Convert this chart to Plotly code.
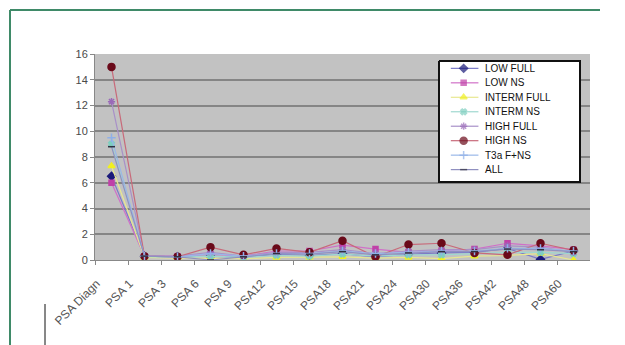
import plotly.graph_objects as go

categories = ["PSA Diagn", "PSA 1", "PSA 3", "PSA 6", "PSA 9", "PSA12", "PSA15", "PSA18",
              "PSA21", "PSA24", "PSA30", "PSA36", "PSA42", "PSA48", "PSA60"]

low_full = [6.5, 0.3, 0.25, 0.3, 0.2, 0.45, 0.35, 0.5, 0.25, 0.45, 0.55, 0.6, 0.9, 0.05, 0.7]
low_ns = [6.0, 0.3, 0.3, 0.45, 0.3, 0.7, 0.7, 1.15, 0.85, 0.6, 0.7, 0.85, 1.3, 1.1, 0.8]
interm_full = [7.3, 0.2, 0.15, 0.15, 0.1, 0.2, 0.2, 0.25, 0.15, 0.2, 0.1, 0.3, 0.35, 0.5, 0.0]
interm_ns = [9.0, 0.25, 0.2, 0.3, 0.2, 0.35, 0.3, 0.45, 0.3, 0.4, 0.4, 0.5, 0.6, 0.6, 0.5]
high_full = [12.3, 0.3, 0.3, 0.6, 0.3, 0.6, 0.6, 0.8, 0.5, 0.7, 0.8, 0.8, 1.1, 1.0, 0.6]
high_ns = [15.0, 0.3, 0.25, 1.0, 0.4, 0.9, 0.6, 1.5, 0.25, 1.2, 1.3, 0.55, 0.4, 1.3, 0.75]
t3a_fns = [9.5, 0.3, 0.25, 0.5, 0.3, 0.5, 0.5, 0.7, 0.5, 0.6, 0.7, 0.7, 0.9, 0.9, 0.7]
all_pts = [8.8, 0.3, 0.25, 0.0, 0.25, 0.5, 0.45, 0.65, 0.4, 0.55, 0.65, 0.65, 0.85, 0.8, 0.65]

series = [
    ("LOW FULL", low_full, "#1a1a7a", "#7a7ac8", "diamond", 6),
    ("LOW NS", low_ns, "#c040a8", "#d070c8", "square", 5),
    ("INTERM FULL", interm_full, "#f0f020", "#e8e890", "triangle-up", 6),
    ("INTERM NS", interm_ns, "#7fcfc0", "#9fd8d0", "x", 5),
    ("HIGH FULL", high_full, "#9a6ab8", "#a890c8", "asterisk", 6),
    ("HIGH NS", high_ns, "#6a0a1a", "#c86a7a", "circle", 7),
    ("T3a F+NS", t3a_fns, "#8fb0e8", "#9ab8e8", "cross-thin", 6),
    ("ALL", all_pts, "#303040", "#9090c0", "line-ew", 5),
]

fig = go.Figure()
for name, vals, mcol, lcol, sym, size in series:
    fig.add_trace(go.Scatter(
        x=categories, y=vals, name=name, mode="lines+markers",
        line=dict(color=lcol, width=1.2),
        marker=dict(color=mcol, symbol=sym, size=size,
                    line=dict(color=mcol, width=1.5)),
        showlegend=False,
    ))

# Legend panel drawn on an overlay subplot (pixel-like units, y downward)
box_w, box_h = 143, 123
row_h, row_top = 14.7, 7.5
key_x0, key_xc, key_x1, text_x = 12, 25, 40, 45

fig.add_trace(go.Scatter(
    x=[0, box_w, box_w, 0, 0], y=[0, 0, box_h, box_h, 0],
    xaxis="x2", yaxis="y2", mode="lines", fill="toself",
    fillcolor="white", line=dict(color="#111111", width=2),
    hoverinfo="skip", showlegend=False,
))
for i, (name, vals, mcol, lcol, sym, size) in enumerate(series):
    yy = row_top + i * row_h
    fig.add_trace(go.Scatter(
        x=[key_x0, key_x1], y=[yy, yy], xaxis="x2", yaxis="y2",
        mode="lines", line=dict(color=lcol, width=1.2),
        hoverinfo="skip", showlegend=False,
    ))
fig.add_trace(go.Scatter(
    x=[key_xc] * len(series),
    y=[row_top + i * row_h for i in range(len(series))],
    xaxis="x2", yaxis="y2", mode="markers",
    marker=dict(color=[s[2] for s in series], symbol=[s[4] for s in series],
                size=[s[5] for s in series],
                line=dict(color=[s[2] for s in series], width=1.5)),
    hoverinfo="skip", showlegend=False,
))
legend_text = [
    dict(x=text_x, y=row_top + i * row_h, xref="x2", yref="y2", text=s[0],
         showarrow=False, xanchor="left", yanchor="middle",
         font=dict(size=10, color="#111111"))
    for i, s in enumerate(series)
]

W, H = 625, 345
grid = "#858585"
fx, fy = 10 / W, 1 - 10 / H

fig.update_layout(
    width=W, height=H,
    margin=dict(l=0, r=0, t=0, b=0),
    paper_bgcolor="white",
    plot_bgcolor="#c2c2c2",
    font=dict(family="Liberation Sans, Arial, sans-serif", color="#555555", size=10),
    showlegend=False,
    annotations=legend_text,
    xaxis=dict(
        domain=[95 / W, 590 / W], automargin=False,
        type="category", showgrid=False, tickangle=-45,
        ticks="outside", tickson="boundaries", ticklen=4, tickcolor="#888888",
        showline=True, linecolor="#888888", linewidth=1,
        tickfont=dict(size=12, color="#555555"),
        ticklabelstandoff=11, ticklabelshift=-15,
        range=[-0.5, len(categories) - 0.5],
    ),
    yaxis=dict(
        domain=[1 - 260 / H, 1 - 54 / H], automargin=False,
        range=[0, 16], dtick=2, showgrid=True, gridcolor=grid, gridwidth=2,
        ticks="outside", ticklen=4, tickcolor="#888888",
        showline=True, linecolor="#888888", linewidth=1,
        zeroline=False, tickfont=dict(size=11, color="#4a4a4a"),
    ),
    xaxis2=dict(domain=[438 / W, 581 / W], range=[-1, box_w + 1], anchor="y2",
                visible=False, fixedrange=True, automargin=False),
    yaxis2=dict(domain=[1 - 183 / H, 1 - 60 / H], range=[box_h + 1, -1], anchor="x2",
                visible=False, fixedrange=True, automargin=False),
    shapes=[
        # outer frame: top and left edges
        dict(type="line", xref="paper", yref="paper",
             x0=fx, x1=600 / W, y0=fy, y1=fy,
             line=dict(color="#3f8a68", width=2)),
        dict(type="line", xref="paper", yref="paper",
             x0=fx, x1=fx, y0=fy, y1=0,
             line=dict(color="#3f8a68", width=2)),
        # short vertical rule below the axis labels
        dict(type="line", xref="paper", yref="paper",
             x0=45 / W, x1=45 / W, y0=1 - 304 / H, y1=0,
             line=dict(color="#111111", width=1)),
    ],
)

fig.write_html("out.html")
